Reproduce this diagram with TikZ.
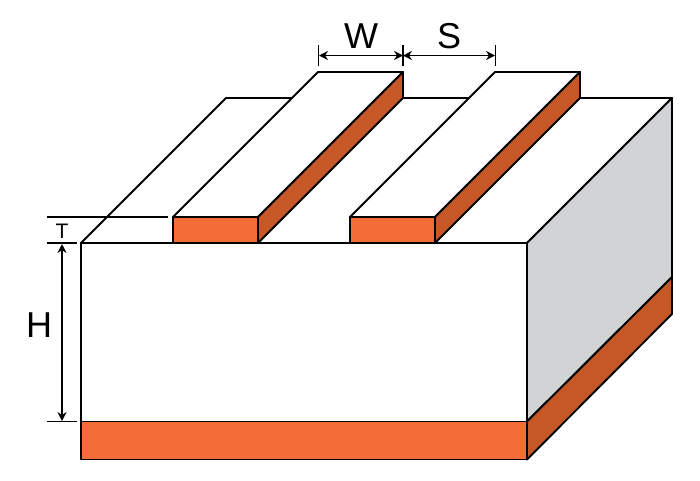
\documentclass[tikz,border=0pt]{standalone}
\usepackage{fontspec}
\setmainfont{Liberation Sans}
\usetikzlibrary{arrows.meta}
\definecolor{copperlight}{HTML}{F46D37}
\definecolor{copperdark}{HTML}{C65828}
\definecolor{sidegray}{HTML}{D1D3D4}
\tikzset{
	solid face/.style={draw=black, line width=1.9pt, line join=round},
	dimline/.style={draw=black, line width=1.5pt},
	dimarrow/.style={draw=black, line width=1.5pt, {Stealth[length=9pt,width=9pt]}-{Stealth[length=9pt,width=9pt]}},
	biglabel/.style={inner sep=0pt, font=\fontsize{36}{36}\selectfont},
	smalllabel/.style={inner sep=0pt, font=\fontsize{21}{21}\selectfont}
}
\begin{document}
\begin{tikzpicture}[x=1pt,y=-1pt]
	\useasboundingbox (0,0) rectangle (700,480);

	% substrate top
	\draw [solid face, fill=white] (81,243) -- (226,98) -- (672,98) -- (527,243) -- cycle;
	% right side
	\draw [solid face, fill=sidegray] (527,243) -- (672,98) -- (672,277) -- (527,421.5) -- cycle;
	\draw [solid face, fill=copperdark] (527,421.5) -- (672,277) -- (672,314) -- (527,459.5) -- cycle;
	% front
	\draw [solid face, fill=white] (81,243) rectangle (527,421.5);
	\draw [solid face, fill=copperlight] (81,421.5) rectangle (527,459.5);

	% left strip
	\draw [solid face, fill=white] (173,217) -- (318,72) -- (403,72) -- (258,217) -- cycle;
	\draw [solid face, fill=copperdark] (258,217) -- (403,72) -- (403,98) -- (258,243) -- cycle;
	\draw [solid face, fill=copperlight] (173,217) rectangle (258,243);
	% right strip
	\draw [solid face, fill=white] (350,217) -- (495,72) -- (580,72) -- (435,217) -- cycle;
	\draw [solid face, fill=copperdark] (435,217) -- (580,72) -- (580,98) -- (435,243) -- cycle;
	\draw [solid face, fill=copperlight] (350,217) rectangle (435,243);

	% dimension ends
	\coordinate (t1a) at (47,217);
	\coordinate (t1b) at (168,217);
	\coordinate (t2a) at (47,243);
	\coordinate (t2b) at (77,243);
	\coordinate (h2a) at (47,421.5);
	\coordinate (h2b) at (77,421.5);
	\coordinate (harrow1) at (62,244);
	\coordinate (harrow2) at (62,421);
	\coordinate (w1a) at (318.5,45);
	\coordinate (w1b) at (318.5,66);
	\coordinate (w2a) at (403,45);
	\coordinate (w2b) at (403,66);
	\coordinate (s2a) at (495.5,45);
	\coordinate (s2b) at (495.5,66);
	\coordinate (warrow1) at (319,55.5);
	\coordinate (warrow2) at (403,55.5);
	\coordinate (sarrow2) at (495,55.5);

	\draw [dimline] (t1a) -- (t1b);
	\draw [dimline] (t2a) -- (t2b);
	\draw [dimline] (h2a) -- (h2b);
	\draw [dimline] (w1a) -- (w1b);
	\draw [dimline] (w2a) -- (w2b);
	\draw [dimline] (s2a) -- (s2b);
	\draw [dimarrow] (harrow1) -- (harrow2);
	\draw [dimarrow] (warrow1) -- (warrow2);
	\draw [dimarrow] (warrow2) -- (sarrow2);

	\node [biglabel] (wlabel) at (361,36) {W};
	\node [biglabel] (slabel) at (449,36) {S};
	\node [biglabel] (hlabel) at (39,325) {H};
	\node [smalllabel] (tlabel) at (62,231) {T};
\end{tikzpicture}
\end{document}
